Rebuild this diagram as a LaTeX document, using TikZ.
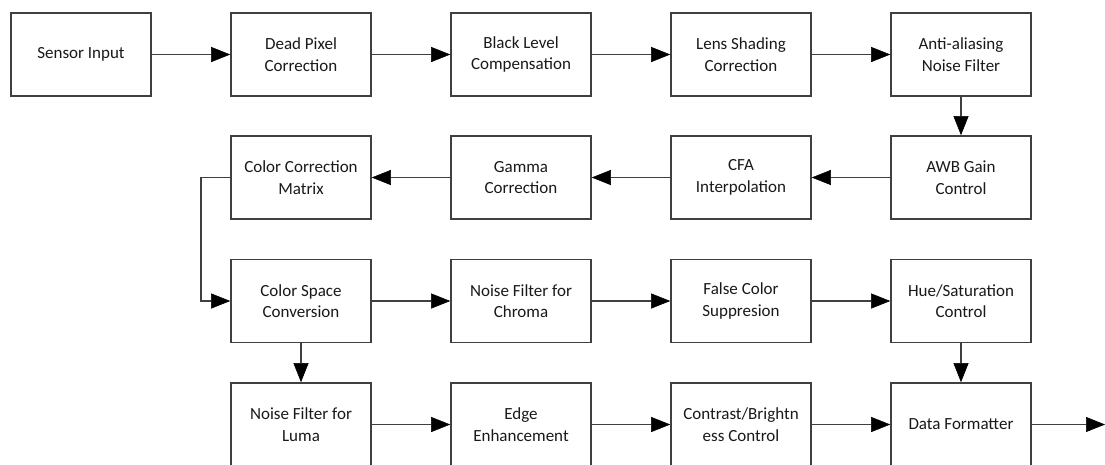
\documentclass[tikz,border=0pt]{standalone}
\usepackage{fontspec}
\setmainfont{Carlito}
\usetikzlibrary{arrows.meta}

\tikzset{
  block/.style={draw=black!75, line width=1.6pt, fill=white, minimum width=140pt,
    minimum height=83pt, inner sep=2pt, align=center, text=black!90,
    font=\fontsize{17}{21.5}\selectfont},
  flow/.style={draw=black!75, line width=1.6pt,
    -{Triangle[length=19pt,width=15pt,black,line width=0.5pt]}}
}

\begin{document}
\begin{tikzpicture}[x=1pt,y=-1pt]
				\useasboundingbox (0,0) rectangle (1105,464);
				
				% first row
				\node[block] (sensor) at (81,54.5) {Sensor Input};
				\node[block] (dpc) at (301,54.5) {Dead Pixel\\Correction};
				\node[block] (blc) at (521,54.5) {Black Level\\Compensation};
				\node[block] (lsc) at (741,54.5) {Lens Shading\\Correction};
				\node[block] (aanf) at (961,54.5) {Anti-aliasing\\Noise Filter};
				
				% second row
				\node[block] (awb) at (961,177.5) {AWB Gain\\Control};
				\node[block] (cfa) at (741,177.5) {CFA\\Interpolation};
				\node[block] (gamma) at (521,177.5) {Gamma\\Correction};
				\node[block] (ccm) at (301,177.5) {Color Correction\\Matrix};
				
				% third row
				\node[block] (csc) at (301,301) {Color Space\\Conversion};
				\node[block] (nfc) at (521,301) {Noise Filter for\\Chroma};
				\node[block] (fcs) at (741,301) {False Color\\Suppresion};
				\node[block] (hsc) at (961,301) {Hue/Saturation\\Control};
				
				% fourth row
				\node[block] (nfl) at (301,424.5) {Noise Filter for\\Luma};
				\node[block] (ee) at (521,424.5) {Edge\\Enhancement};
				\node[block] (cbc) at (741,424.5) {Contrast/Brightn\\ess Control};
				\node[block] (df) at (961,424.5) {Data Formatter};
				\coordinate (out) at (1105,424.5);
				
				\draw[flow] (sensor) -- (dpc);
				\draw[flow] (dpc) -- (blc);
				\draw[flow] (blc) -- (lsc);
				\draw[flow] (lsc) -- (aanf);
				\draw[flow] (aanf) -- (awb);
				\draw[flow] (awb) -- (cfa);
				\draw[flow] (cfa) -- (gamma);
				\draw[flow] (gamma) -- (ccm);
				\draw[flow] (ccm.west) -- ++(-29,0) |- (csc.west);
				\draw[flow] (csc) -- (nfc);
				\draw[flow] (nfc) -- (fcs);
				\draw[flow] (fcs) -- (hsc);
				\draw[flow] (hsc) -- (df);
				\draw[flow] (csc) -- (nfl);
				\draw[flow] (nfl) -- (ee);
				\draw[flow] (ee) -- (cbc);
				\draw[flow] (cbc) -- (df);
				\draw[flow] (df) -- (out);
\end{tikzpicture}
\end{document}
